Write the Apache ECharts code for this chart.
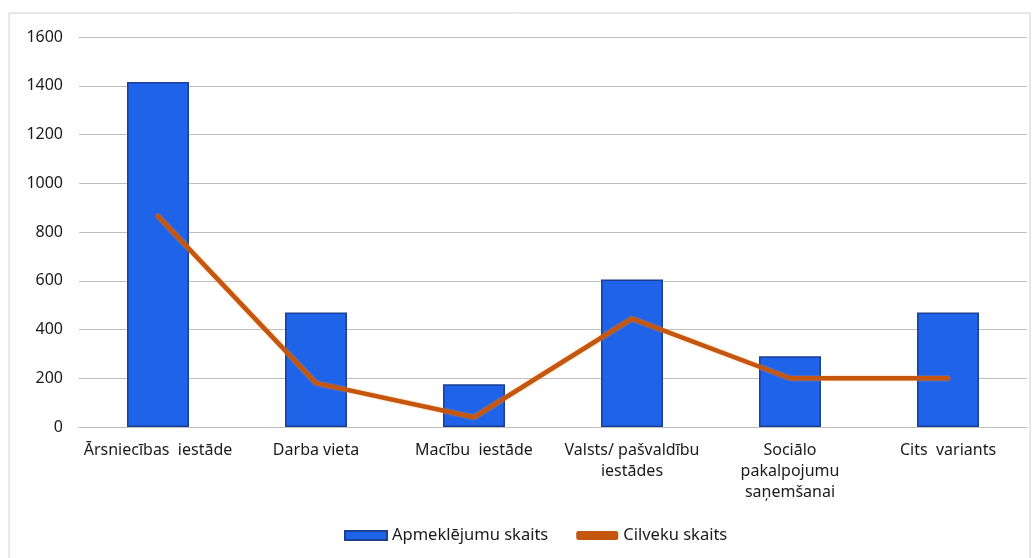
<!DOCTYPE html>
<html>
<head>
<meta charset="utf-8">
<script src="https://cdn.jsdelivr.net/npm/echarts@6/dist/echarts.min.js"></script>
<style>
  html, body { margin: 0; padding: 0; background: #fff; }
  #chart { width: 1035px; height: 558px; }
</style>
</head>
<body>
<div id="chart"></div>
<script>
const categories = [
  'Ārsniecības  iestāde',
  'Darba vieta',
  'Macību  iestāde',
  'Valsts/ pašvaldību\niestādes',
  'Sociālo\npakalpojumu\nsaņemšanai',
  'Cits  variants'
];
const visits = [1415, 470, 175, 605, 290, 470];
const people = [865, 180, 40, 445, 200, 200];
const yTicks = { min: 0, max: 1600, interval: 200 };

const chart = echarts.init(document.getElementById('chart'));

chart.setOption({
  animation: false,
  textStyle: { fontFamily: 'Noto Sans, DejaVu Sans, sans-serif' },
  graphic: [{
    type: 'rect',
    shape: { x: 9, y: 13, width: 1021, height: 560 },
    style: { fill: 'none', stroke: '#d0d0d0', lineWidth: 1 },
    silent: true
  }],
  grid: { left: 79, right: 8, top: 37, bottom: 131 },
  legend: {
    bottom: 9,
    left: 339,
    itemGap: 28,
    itemWidth: 42,
    itemHeight: 9,
    textStyle: { fontSize: 16.5, color: '#1a1a1a' },
    data: [
      { name: 'Apmeklējumu skaits', icon: 'rect' },
      { name: 'Cilveku skaits', icon: 'roundRect' }
    ]
  },
  xAxis: {
    type: 'category',
    data: categories,
    axisTick: { show: false },
    axisLine: { lineStyle: { color: '#bfbfbf', width: 1.2 } },
    axisLabel: { fontSize: 16, color: '#1a1a1a', margin: 13, lineHeight: 21, interval: 0 }
  },
  yAxis: {
    type: 'value',
    min: yTicks.min,
    max: yTicks.max,
    interval: yTicks.interval,
    axisLine: { show: false },
    axisTick: { show: false },
    axisLabel: { fontSize: 16, color: '#1a1a1a', margin: 16, formatter: v => String(v) },
    splitLine: { lineStyle: { color: '#bfbfbf', width: 1.2 } }
  },
  series: [
    {
      name: 'Apmeklējumu skaits',
      type: 'bar',
      data: visits,
      barWidth: 62,
      itemStyle: {
        color: '#1f63e8',
        borderColor: '#1b3f94',
        borderWidth: 1.5
      }
    },
    {
      name: 'Cilveku skaits',
      type: 'line',
      data: people,
      symbol: 'none',
      lineStyle: {
        color: '#c4560f',
        width: 4.5,
        cap: 'round',
        shadowColor: 'rgba(255,150,60,0.7)',
        shadowBlur: 2
      },
      itemStyle: { color: '#c4560f' }
    }
  ]
});
</script>
</body>
</html>
